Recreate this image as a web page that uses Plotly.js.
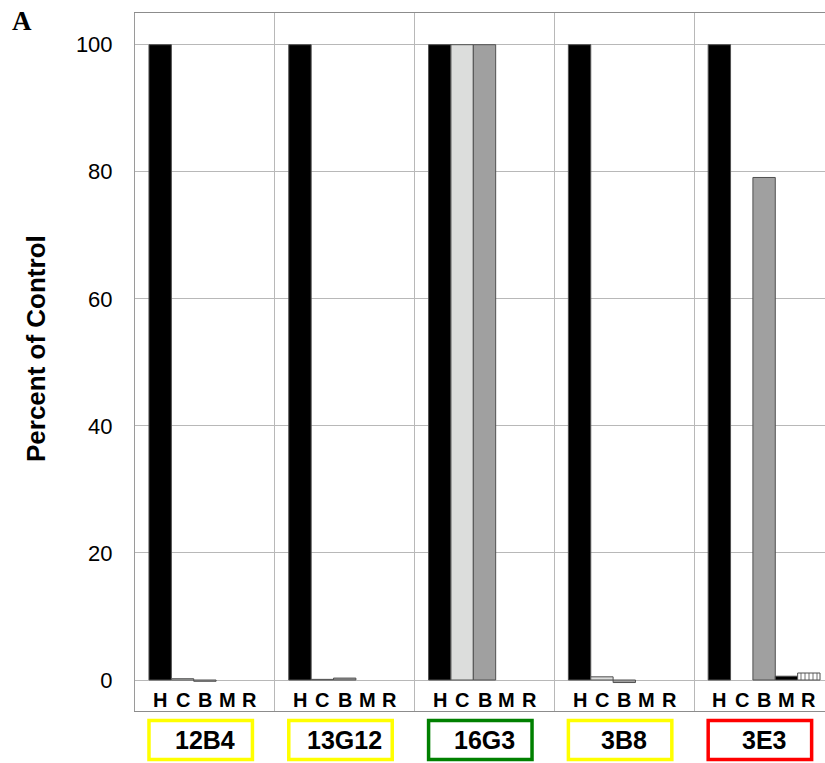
<!DOCTYPE html>
<html>
<head>
<meta charset="utf-8">
<script src="https://cdn.plot.ly/plotly-3.0.1.min.js"></script>
<style>
html,body{margin:0;padding:0;overflow:hidden;background:#fff;}
#chart{width:840px;height:763px;}
</style>
</head>
<body>
<div id="chart"></div>
<script>
// ---- data ----
const groups = ['12B4', '13G12', '16G3', '3B8', '3E3'];
const seriesNames = ['H', 'C', 'B', 'M', 'R'];
const valuesH = [100, 100, 100, 100, 100];
const valuesC = [0.2, 0.1, 100, 0.5, 0];
const valuesB = [-0.2, 0.3, 100, -0.4, 79.1];
const valuesM = [0, 0, 0, 0, 0.6];
const valuesR = [0, 0, 0, 0, 1.1];
const yTicks = [0, 20, 40, 60, 80, 100];
const yTitle = 'Percent of Control';
const panelLabel = 'A';

// ---- styles ----
const seriesValues = [valuesH, valuesC, valuesB, valuesM, valuesR];
const seriesColors = ['#000000', '#dcdddc', '#a0a0a0', '#000000', '#ffffff'];
const boxColors = ['#ffff00', '#ffff00', '#008000', '#ffff00', '#ff0000'];
const groupIdx = groups.map((g, i) => i);
const BARW = 0.16;

const traces = seriesNames.map((name, j) => {
  const vals = seriesValues[j];
  const t = {
    type: 'bar',
    name: name,
    x: groupIdx,
    y: vals,
    marker: {
      color: seriesColors[j],
      line: {color: '#505050', width: vals.map(v => v === 0 ? 0 : 1)}
    },
    hoverinfo: 'y+name'
  };
  if (name === 'R') {
    t.marker.pattern = {shape: '|', fgcolor: '#707070', bgcolor: '#ffffff', size: 4, solidity: 0.25};
  }
  return t;
});

const annotations = [];
groups.forEach((g, i) => {
  seriesNames.forEach((s, j) => {
    annotations.push({
      x: i + (j - 2) * BARW, y: -3.15, xref: 'x', yref: 'y',
      text: '<b>' + s + '</b>', showarrow: false,
      font: {family: 'Liberation Sans, Arial, sans-serif', size: 20, color: '#000'},
      xanchor: 'center', yanchor: 'middle'
    });
  });
  annotations.push({
    x: i, y: -0.0415, xref: 'x', yref: 'paper',
    text: '<b>' + g + '</b>', showarrow: false,
    font: {family: 'Liberation Sans, Arial, sans-serif', size: 25, color: '#000'},
    xanchor: 'center', yanchor: 'middle'
  });
});
annotations.push({
  x: -0.1416, y: 0.5186, xref: 'paper', yref: 'paper',
  text: '<b>' + yTitle + '</b>', showarrow: false, textangle: -90,
  font: {family: 'Liberation Sans, Arial, sans-serif', size: 26, color: '#000'},
  xanchor: 'center', yanchor: 'middle'
});
annotations.push({
  x: -0.1617, y: 0.988, xref: 'paper', yref: 'paper',
  text: '<b>' + panelLabel + '</b>', showarrow: false,
  font: {family: 'Liberation Serif, Times New Roman, serif', size: 27, color: '#000'},
  xanchor: 'center', yanchor: 'middle'
});

const shapes = groups.map((g, i) => ({
  type: 'rect', xref: 'x', yref: 'paper',
  x0: i - 0.4, x1: i + 0.34, y0: -0.0136, y1: -0.0695,
  line: {color: boxColors[i], width: 3.5}, fillcolor: 'rgba(0,0,0,0)'
}));

const layout = {
  width: 840, height: 763,
  margin: {l: 135, r: 6, t: 13, b: 52},
  paper_bgcolor: '#ffffff', plot_bgcolor: '#ffffff',
  showlegend: false,
  barmode: 'group', bargap: 0.2, bargroupgap: 0,
  xaxis: {
    range: [-0.5, 4.5],
    tickvals: groupIdx.slice(1).map(i => i - 0.5),
    showticklabels: false, ticks: '',
    showgrid: true, gridcolor: '#b8b8b8', gridwidth: 1,
    zeroline: false,
    showline: true, mirror: true, linecolor: '#8c8c8c', linewidth: 1
  },
  yaxis: {
    range: [-4.88, 104.99],
    tickvals: yTicks, ticktext: yTicks.map(String),
    ticks: '', ticklabelstandoff: 17,
    tickfont: {family: 'Liberation Sans, Arial, sans-serif', size: 22, color: '#000'},
    showgrid: true, gridcolor: '#b8b8b8', gridwidth: 1,
    zeroline: false,
    showline: true, mirror: true, linecolor: '#9a9a9a', linewidth: 1
  },
  annotations: annotations,
  shapes: shapes
};

Plotly.newPlot('chart', traces, layout, {displayModeBar: false, staticPlot: true});
</script>
</body>
</html>
